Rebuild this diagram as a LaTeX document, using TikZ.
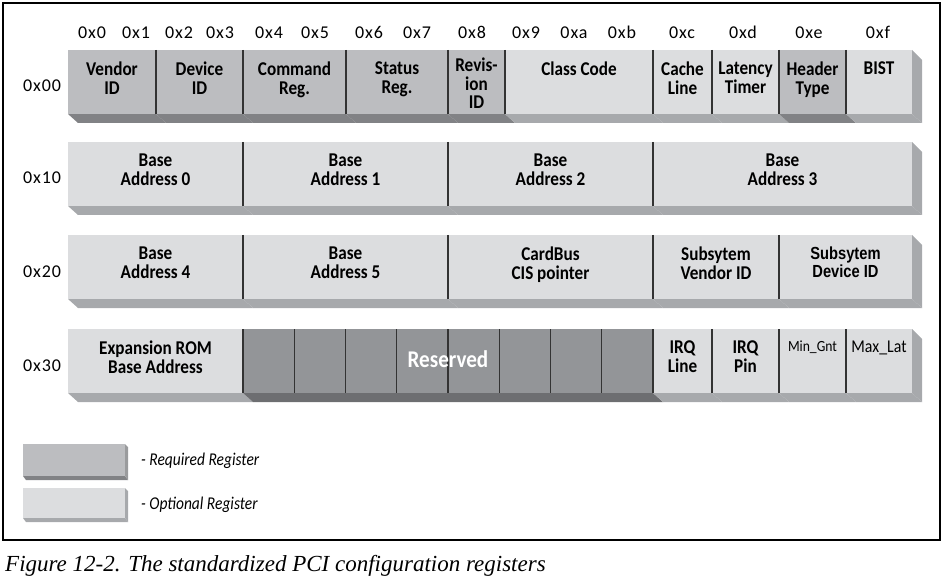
\documentclass[tikz,border=0pt]{standalone}
\usepackage{fontspec}
\setmainfont{Liberation Serif}
\newfontfamily\cellfont[FakeStretch=0.88]{Carlito}
\newfontfamily\hexfont[LetterSpace=5]{Carlito}
\newfontfamily\helvnarrow[FakeStretch=0.84]{Liberation Sans}

\definecolor{reqface}{HTML}{BCBDC0}
\definecolor{reqshade}{HTML}{818285}
\definecolor{optface}{HTML}{DCDDDF}
\definecolor{optshade}{HTML}{A7A9AC}
\definecolor{resface}{HTML}{939598}
\definecolor{resshade}{HTML}{6D6E71}
\definecolor{divline}{HTML}{333333}

\tikzset{
  cellface/.style={anchor=north west, inner sep=0pt, outer sep=0pt, draw=none},
  celltext/.style={anchor=north, inner sep=0pt, align=center, text=black,
    font=\cellfont\bfseries\fontsize{19.5}{19}\selectfont},
  revtext/.style={celltext, yshift=4pt, font=\cellfont\bfseries\fontsize{19.5}{18.5}\selectfont},
  helvtext/.style={celltext, font=\helvnarrow\bfseries\fontsize{17.5}{15}\selectfont},
  smalltext/.style={celltext, font=\cellfont\fontsize{15.5}{15}\selectfont},
  plaintext/.style={celltext, font=\cellfont\fontsize{18}{18}\selectfont},
  hexlabel/.style={anchor=base, inner sep=0pt, font=\hexfont\fontsize{18}{18}\selectfont},
  divider/.style={draw=divline, line width=1.3pt},
  legendtext/.style={anchor=west, inner sep=0pt,
    font=\cellfont\itshape\addfontfeature{FakeStretch=0.86}\fontsize{18}{18}\selectfont},
}

% \regcell{name}{x left}{x right}{y top}{kind: req/opt/res}{text style}{text}
\newcommand\regcell[7]{%
  \fill[#5shade] (#2,#4+64) -- (#3,#4+64) -- (#3+10,#4+73) -- (#2+10,#4+73) -- cycle;
  \node[cellface, fill=#5face, minimum width={#3-#2}, minimum height=64] (#1) at (#2,#4) {};
  \ifdim #2pt>68pt \draw[divider] (#1.north west) -- (#1.south west);\fi
  \node[#6] (#1-text) at ([yshift=-12pt]#1.north) {#7};
}
% right end face of a row
\newcommand\rowend[1]{%
  \fill[optshade] (912,#1) -- (922,#1+10) -- (922,#1+73) -- (912,#1+64) -- cycle;
}

\begin{document}
\begin{tikzpicture}[x=1pt, y=-1pt]
\useasboundingbox (0,0) rectangle (948,588);
\draw[line width=1.3pt] (3,3) rectangle (940,540);

% byte offsets
\foreach \lab/\xc in {0x0/92, 0x1/136, 0x2/179, 0x3/220, 0x4/269, 0x5/315,
  0x6/369, 0x7/417, 0x8/472, 0x9/526, 0xa/574, 0xb/622, 0xc/682, 0xd/743,
  0xe/809, 0xf/878}
  \node[hexlabel] (col-\lab) at (\xc,39) {\lab};

% row offsets
\node[hexlabel] (row00) at (42,92) {0x00};
\node[hexlabel] (row10) at (42,184) {0x10};
\node[hexlabel] (row20) at (42,277) {0x20};
\node[hexlabel] (row30) at (42,371) {0x30};

% row 0x00
\regcell{vendor}{68}{156}{50}{req}{celltext}{Vendor\\ID}
\regcell{device}{156}{243}{50}{req}{celltext}{Device\\ID}
\regcell{command}{243}{346}{50}{req}{celltext}{Command\\Reg.}
\regcell{status}{346}{448}{50}{req}{celltext}{Status\\Reg.}
\regcell{revision}{448}{505}{50}{req}{revtext}{Revis-\\ion\\ID}
\regcell{classcode}{505}{653}{50}{opt}{celltext}{Class Code}
\regcell{cacheline}{653}{712}{50}{opt}{celltext}{Cache\\Line}
\regcell{latency}{712}{779}{50}{opt}{celltext}{Latency\\Timer}
\regcell{header}{779}{846}{50}{req}{celltext}{Header\\Type}
\regcell{bist}{846}{912}{50}{opt}{celltext}{BIST}
\rowend{50}

% row 0x10
\regcell{bar0}{68}{243}{142}{opt}{celltext}{Base\\Address 0}
\regcell{bar1}{243}{448}{142}{opt}{celltext}{Base\\Address 1}
\regcell{bar2}{448}{653}{142}{opt}{celltext}{Base\\Address 2}
\regcell{bar3}{653}{912}{142}{opt}{celltext}{Base\\Address 3}
\rowend{142}

% row 0x20
\regcell{bar4}{68}{243}{235}{opt}{celltext}{Base\\Address 4}
\regcell{bar5}{243}{448}{235}{opt}{celltext}{Base\\Address 5}
\regcell{cardbus}{448}{653}{235}{opt}{celltext}{CardBus\\CIS pointer}
\regcell{subvendor}{653}{779}{235}{opt}{celltext}{Subsytem\\Vendor ID}
\regcell{subdevice}{779}{912}{235}{opt}{helvtext}{Subsytem\\Device ID}
\rowend{235}

% row 0x30
\regcell{rom}{68}{243}{329}{opt}{celltext}{Expansion ROM\\Base Address}
\regcell{reserved}{243}{653}{329}{res}{celltext}{}
\foreach \k in {1,...,7}
  \draw[divider] (243+51.25*\k,329) -- (243+51.25*\k,393);
\node[anchor=center, inner sep=0pt, text=white,
  font=\cellfont\bfseries\fontsize{24}{24}\selectfont] (reserved-label) at (448,359) {Reserved};
\regcell{irqline}{653}{712}{329}{opt}{celltext}{IRQ\\Line}
\regcell{irqpin}{712}{779}{329}{opt}{celltext}{IRQ\\Pin}
\regcell{mingnt}{779}{846}{329}{opt}{smalltext}{Min\_Gnt}
\regcell{maxlat}{846}{912}{329}{opt}{plaintext}{Max\_Lat}
\rowend{329}

% legend
\fill[reqshade] (23,476) -- (125,476) -- (128,480) -- (26,480) -- cycle;
\fill[reqshade!80!white] (125,444) -- (128,447) -- (128,480) -- (125,476) -- cycle;
\node[cellface, fill=reqface, minimum width=102, minimum height=32] (legreq) at (23,444) {};
\fill[optshade] (23,518) -- (125,518) -- (128,522) -- (26,522) -- cycle;
\fill[optshade] (125,488) -- (128,491) -- (128,522) -- (125,518) -- cycle;
\node[cellface, fill=optface, minimum width=102, minimum height=30] (legopt) at (23,488) {};
\node[legendtext] (legreq-text) at (141,461) {- Required Register};
\node[legendtext] (legopt-text) at (141,505) {- Optional Register};

% caption
\node[anchor=base west, inner sep=0pt, font=\fontsize{23}{23}\selectfont\itshape]
  (caption) at (5,571) {Figure 12-2. The standardized PCI configuration registers};
\end{tikzpicture}
\end{document}
